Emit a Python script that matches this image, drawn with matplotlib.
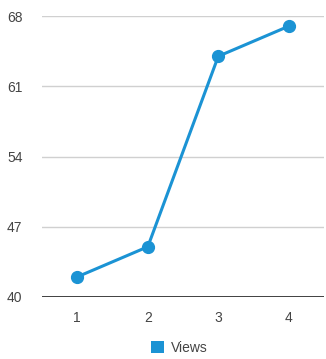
import matplotlib.pyplot as plt
from matplotlib.patches import Patch

plt.rcParams['font.family'] = ['Liberation Sans', 'DejaVu Sans']

# data
categories = [1, 2, 3, 4]
views = [42, 45, 64, 67]
y_ticks = [40, 47, 54, 61, 68]

blue = '#1b93d4'

fig = plt.figure(figsize=(3.26, 3.59), dpi=100)
ax = fig.add_axes([0.129, 0.173, 0.865, 0.782])

ax.plot(categories, views, '-o', color=blue, lw=2.2, markersize=8.5, zorder=3)

ax.set_xlim(0.5, 4.5)
ax.set_ylim(40, 68)
ax.set_xticks(categories)
ax.set_yticks(y_ticks)
ax.yaxis.grid(True, color='#d0d0d0', lw=1)
ax.axhline(40, color='#333333', lw=1.3, zorder=2)
for s in ax.spines.values():
    s.set_visible(False)
ax.tick_params(length=0, labelsize=10, labelcolor='#444444')
ax.tick_params(axis='y', pad=14)
ax.tick_params(axis='x', pad=10)

handles = [Patch(facecolor=blue, label='Views')]
fig.legend(handles=handles, loc='center', bbox_to_anchor=(0.55, 0.031), frameon=False,
           fontsize=10, handlelength=0.95, handleheight=0.95, handletextpad=0.5,
           labelcolor='#444444')

fig.savefig('out.png', dpi=100)
